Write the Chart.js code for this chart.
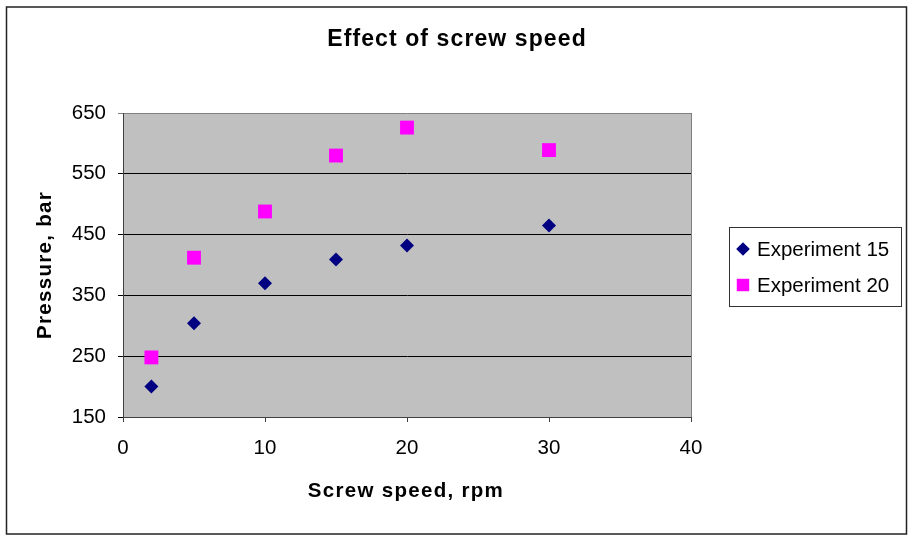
<!DOCTYPE html>
<html>
<head>
<meta charset="utf-8">
<script src="https://cdn.jsdelivr.net/npm/chart.js@4/dist/chart.umd.min.js"></script>
<style>
  html, body { margin: 0; padding: 0; background: #fff; }
  #wrap { width: 909px; height: 536px; }
</style>
</head>
<body>
<div id="wrap"><canvas id="screwChart" width="909" height="536"></canvas></div>
<script>
// data
const speeds = [2, 5, 10, 15, 20, 30];          // rpm
const exp15 = [200, 304, 370, 409, 432, 465];   // bar
const exp20 = [248, 412, 488, 580, 626, 589];   // bar
const seriesNames = ['Experiment 15', 'Experiment 20'];
const xTicks = [0, 10, 20, 30, 40];
const yTicks = [150, 250, 350, 450, 550, 650];

const FONT = '"Liberation Sans", Arial, sans-serif';

function toPoints(ys) {
  return speeds.map((s, i) => ({ x: s, y: ys[i] }));
}

// grey plot area, borders, titles and the boxed legend
const decor = {
  id: 'decor',
  beforeDraw(chart) {
    const { ctx, chartArea: a } = chart;
    ctx.save();
    ctx.fillStyle = '#C0C0C0';
    ctx.fillRect(a.left, a.top, a.right - a.left, a.bottom - a.top);
    ctx.restore();
  },
  afterDraw(chart) {
    const { ctx, chartArea: a } = chart;
    ctx.save();
    // right edge of plot
    ctx.strokeStyle = '#808080';
    ctx.lineWidth = 1;
    ctx.beginPath();
    ctx.moveTo(Math.round(a.right) + 0.5, a.top);
    ctx.lineTo(Math.round(a.right) + 0.5, a.bottom);
    ctx.stroke();

    // outer frame
    ctx.strokeStyle = '#222';
    ctx.lineWidth = 1.5;
    ctx.strokeRect(6.5, 7, 900, 527);

    // titles
    ctx.fillStyle = '#000';
    ctx.textAlign = 'center';
    ctx.textBaseline = 'middle';
    ctx.font = 'bold 23px ' + FONT;
    ctx.letterSpacing = '1.1px';
    ctx.fillText('Effect of screw speed', 457, 40);

    ctx.font = 'bold 20.5px ' + FONT;
    ctx.letterSpacing = '1.3px';
    ctx.fillText('Screw speed, rpm', (a.left + a.right) / 2 - 1, 491);

    ctx.save();
    ctx.translate(45, (a.top + a.bottom) / 2);
    ctx.rotate(-Math.PI / 2);
    ctx.fillText('Pressure, bar', 0, 0);
    ctx.restore();

    // legend
    ctx.letterSpacing = '0px';
    ctx.strokeStyle = '#333';
    ctx.lineWidth = 1;
    ctx.strokeRect(729.5, 227.5, 172, 79);
    ctx.font = '20.5px ' + FONT;
    ctx.textAlign = 'left';
    const rows = [249, 285];
    chart.data.datasets.forEach((ds, i) => {
      ctx.fillStyle = ds.backgroundColor;
      ctx.strokeStyle = ds.backgroundColor;
      Chart.helpers.drawPoint(ctx, {
        pointStyle: ds.pointStyle,
        radius: i === 0 ? 6.8 : 8.8,
        rotation: 0,
        borderWidth: 0
      }, 743, rows[i]);
      ctx.fillStyle = '#000';
      ctx.fillText(ds.label, 757, rows[i] + 1);
    });
    ctx.restore();
  }
};

new Chart(document.getElementById('screwChart'), {
  type: 'scatter',
  data: {
    datasets: [
      {
        label: seriesNames[0],
        data: toPoints(exp15),
        pointStyle: 'rectRot',
        pointRadius: 7,
        pointHoverRadius: 7,
        backgroundColor: '#000080',
        borderColor: '#000080',
        borderWidth: 0
      },
      {
        label: seriesNames[1],
        data: toPoints(exp20),
        pointStyle: 'rect',
        pointRadius: 9.8,
        pointHoverRadius: 9.8,
        backgroundColor: '#FF00FF',
        borderColor: '#FF00FF',
        borderWidth: 0
      }
    ]
  },
  options: {
    responsive: false,
    animation: false,
    events: [],
    layout: { padding: { left: 0, top: 113, right: 218, bottom: 0 } },
    plugins: {
      legend: { display: false },
      title: { display: false },
      tooltip: { enabled: false }
    },
    scales: {
      x: {
        type: 'linear',
        min: xTicks[0],
        max: xTicks[xTicks.length - 1],
        afterBuildTicks: (s) => { s.ticks = xTicks.map(v => ({ value: v })); },
        afterFit: (s) => { s.height = 119; },
        ticks: { color: '#000', font: { family: FONT, size: 20.5 }, padding: 14 },
        grid: { drawOnChartArea: false, drawTicks: true, tickLength: 5, color: '#404040' },
        border: { display: true, color: '#404040', width: 1 }
      },
      y: {
        type: 'linear',
        min: yTicks[0],
        max: yTicks[yTicks.length - 1],
        afterBuildTicks: (s) => { s.ticks = yTicks.map(v => ({ value: v })); },
        afterFit: (s) => { s.width = 123; },
        ticks: { color: '#000', font: { family: FONT, size: 20.5 }, padding: 12 },
        grid: {
          drawTicks: true,
          tickLength: 5,
          color: (c) => (c.tick && c.tick.value === yTicks[yTicks.length - 1]) ? '#808080' : '#000'
        },
        border: { display: true, color: '#404040', width: 1 }
      }
    }
  },
  plugins: [decor]
});
</script>
</body>
</html>
